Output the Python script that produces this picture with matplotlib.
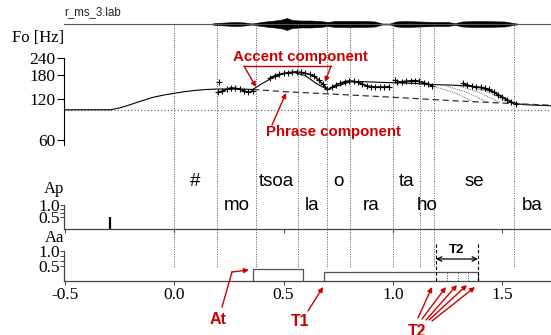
import matplotlib
matplotlib.use("Agg")
import matplotlib.pyplot as plt

# -------------------------------------
# Data
# -------------------------------------

# segment boundaries (s) and syllable labels
seg_bounds = [0.0, 0.196, 0.374, 0.565, 0.699, 0.804, 1.0, 1.123, 1.187, 1.553]
seg_labels = ["#", "mo", "tsoa", "la", "o", "ra", "ta", "ho", "se", "ba"]
seg_end = 1.72

# speech waveform envelope (time s, half amplitude)
wave_t = [0.0, 0.164, 0.19, 0.233, 0.28, 0.324, 0.356, 0.384, 0.416, 0.461, 0.493,
          0.516, 0.539, 0.575, 0.621, 0.667, 0.703, 0.735, 0.804, 0.872, 0.918,
          0.95, 0.986, 1.014, 1.055, 1.123, 1.192, 1.251, 1.283, 1.315, 1.374,
          1.443, 1.511, 1.548, 1.58]
wave_a = [0.0, 0.0, 0.1, 0.15, 0.2, 0.15, 0.05, 0.15, 0.25, 0.35, 0.45,
          0.6, 0.4, 0.35, 0.35, 0.3, 0.2, 0.3, 0.3, 0.3, 0.25,
          0.05, 0.05, 0.25, 0.3, 0.25, 0.2, 0.2, 0.08, 0.25, 0.3,
          0.28, 0.25, 0.1, 0.0]

# base frequency (Hz)
fb = 100

# model F0 contour (Hz)
model_t = [-0.5, -0.29, -0.25, -0.2, -0.15, -0.1, -0.05, 0.0, 0.05, 0.1, 0.15, 0.2,
           0.25, 0.3, 0.36, 0.40, 0.45, 0.50, 0.55, 0.60, 0.65, 0.70, 0.75, 0.80,
           0.85, 0.90, 1.0, 1.1, 1.19, 1.25, 1.3, 1.35, 1.40, 1.45, 1.5, 1.55,
           1.6, 1.72]
model_hz = [100, 100, 103, 109, 116, 123, 128, 132, 136, 139, 141, 142,
            142, 142, 141, 155, 172, 184, 188, 178, 156, 141, 150, 160,
            161, 160, 158, 156, 153, 152, 151, 149, 145, 136, 124, 112,
            109, 107]

# phrase component alone, after the first accent onset (Hz)
phrase_t = [0.36, 0.5, 0.7, 0.9, 1.1, 1.3, 1.5, 1.72]
phrase_hz = [141, 136, 131, 126, 121, 116, 112, 108]

# alternative contours for the T2 candidates
fan_t0 = [1.19, 1.245, 1.297, 1.342]
fan_hz0 = [148, 149, 150, 150]
fan_t1 = [1.374, 1.434, 1.489, 1.534]
fan_hz1 = [113, 113, 113, 112]

# measured F0 (Hz), one list per voiced stretch
f0_segments = [
    ([0.20, 0.22, 0.24, 0.26, 0.28, 0.30, 0.32, 0.34, 0.36],
     [134, 137, 141, 145, 144, 142, 138, 134, 138]),
    ([0.44, 0.46, 0.48, 0.50, 0.52, 0.54, 0.56, 0.58, 0.60, 0.62, 0.64, 0.66, 0.68, 0.70],
     [172, 178, 182, 185, 187, 189, 190, 188, 185, 182, 176, 166, 154, 142]),
    ([0.72, 0.74, 0.76, 0.78, 0.80, 0.82, 0.84, 0.86, 0.88, 0.90, 0.92, 0.94, 0.96, 0.98],
     [146, 152, 157, 161, 163, 162, 159, 154, 150, 148, 147, 147, 147, 148]),
    ([1.02, 1.04, 1.06, 1.08, 1.10, 1.12, 1.14, 1.16, 1.18],
     [160, 161, 162, 163, 164, 162, 158, 154, 150]),
    ([1.32, 1.34, 1.36, 1.38, 1.40, 1.42, 1.44, 1.46, 1.48, 1.50, 1.52, 1.54, 1.56],
     [156, 152, 149, 147, 146, 144, 141, 135, 129, 124, 118, 114, 111]),
]
f0_single_t = [0.205, 1.01]
f0_single_hz = [160, 166]

# phrase command
ap_t = -0.292
ap_amp = 0.48

# accent commands
aa_on = [0.361, 0.685]
aa_off = [0.589, 1.388]
aa_amp = [0.40, 0.30]
t2_cands = [1.196, 1.247, 1.297, 1.343]

x_ticks = [-0.5, 0.0, 0.5, 1.0, 1.5]
x_ticklabels = ["-0.5", "0.0", "0.5", "1.0", "1.5"]
fo_ticks = [60, 120, 180, 240]

# -------------------------------------
# Layout helpers (reference pixels)
# -------------------------------------
W, H = 551, 335
T0_PX, PX_PER_S = 174, 219
RED = "#cc0000"
SERIF = "Liberation Serif"
SANS = "Liberation Sans"


def px2t(x):
    return (x - T0_PX) / PX_PER_S


def px2hz(y):
    return 60 * 2 ** ((140 - y) / 41)


def add_axes_px(fig, x0, y0, x1, y1):
    return fig.add_axes([x0 / W, 1 - y1 / H, (x1 - x0) / W, (y1 - y0) / H])


def fp(x, y):
    return (x, H - y)


XLIM = (px2t(64), px2t(551))

fig = plt.figure(figsize=(W / 100, H / 100), dpi=100)

# waveform
ax_w = add_axes_px(fig, 64, 12, 551, 36)
ax_w.set_xlim(*XLIM)
ax_w.set_ylim(-1.2, 1.2)
ax_w.axhline(0, color="#555555", lw=0.8)
ax_w.fill_between(wave_t, [-a for a in wave_a], wave_a, color="black", lw=0.4)
ax_w.axis("off")

# F0 panel
ax_f = add_axes_px(fig, 64, 40, 551, 150)
ax_f.set_yscale("log")
ax_f.set_xlim(*XLIM)
ax_f.set_ylim(px2hz(150), px2hz(40))
ax_f.patch.set_visible(False)
for s in ["top", "right", "bottom"]:
    ax_f.spines[s].set_visible(False)
ax_f.spines["left"].set_bounds(55, 242)
ax_f.set_xticks([])
ax_f.yaxis.set_major_locator(plt.FixedLocator(fo_ticks))
ax_f.yaxis.set_minor_locator(plt.NullLocator())
ax_f.set_yticklabels([str(v) for v in fo_ticks], family=SERIF, fontsize=12.5)
ax_f.tick_params(axis="y", length=5, width=0.8, pad=1)
ax_f.axhline(fb, color="#555555", lw=0.8, ls=(0, (1, 2)))
ax_f.plot(model_t, model_hz, color="black", lw=0.8)
ax_f.plot(phrase_t, phrase_hz, color="#333333", lw=0.9, ls=(0, (5, 3)))
for a0, h0, a1, h1 in zip(fan_t0, fan_hz0, fan_t1, fan_hz1):
    ax_f.plot([a0, (a0 + a1) / 2, a1], [h0, (h0 + h1) / 2 + 3, h1],
              color="#444444", lw=0.6, ls=(0, (1, 1.2)))
for ts, hs in f0_segments:
    ax_f.plot(ts, hs, color="black", lw=1.1, marker="+", ms=4.5, mew=0.8)
ax_f.plot(f0_single_t, f0_single_hz, ls="none", color="black", marker="+", ms=5, mew=0.8)

# phrase command panel
ax_p = add_axes_px(fig, 64, 199, 551, 229)
ax_p.set_xlim(*XLIM)
ax_p.set_ylim(0, 30 / 24)
ax_p.patch.set_visible(False)
ax_p.spines["top"].set_visible(False)
ax_p.spines["right"].set_visible(False)
ax_p.spines["left"].set_bounds(0, 1.0)
for s in ["left", "bottom"]:
    ax_p.spines[s].set_color("#444444")
    ax_p.spines[s].set_linewidth(0.9)
ax_p.vlines(ap_t, 0, ap_amp, color="black", lw=1.6)
ax_p.set_xticks(x_ticks)
ax_p.set_xticklabels([])
ax_p.set_yticks([0.5, 2 / 3, 5 / 6, 1.0])
ax_p.set_yticklabels(["0.5", "", "", "1.0"], family=SERIF, fontsize=12.5)
ax_p.tick_params(length=3, width=0.7, pad=0, colors="#444444", labelcolor="black")

# accent command panel
ax_a = add_axes_px(fig, 64, 245, 551, 281)
ax_a.set_xlim(*XLIM)
ax_a.set_ylim(0, 36 / 30)
ax_a.patch.set_visible(False)
ax_a.spines["top"].set_visible(False)
ax_a.spines["right"].set_visible(False)
ax_a.spines["left"].set_bounds(0, 1.0)
for s in ["left", "bottom"]:
    ax_a.spines[s].set_color("#444444")
    ax_a.spines[s].set_linewidth(0.9)
for on, off, amp in zip(aa_on, aa_off, aa_amp):
    ax_a.plot([on, on, off, off], [0, amp, amp, 0], color="#555555", lw=0.9)
ax_a.vlines(t2_cands[1:], 0, aa_amp[1], color="#444444", lw=0.7, ls=(0, (1, 1.5)))
ax_a.set_xticks(x_ticks)
ax_a.set_xticklabels(x_ticklabels, family=SERIF, fontsize=12.5)
ax_a.set_yticks([0.5, 2 / 3, 5 / 6, 1.0])
ax_a.set_yticklabels(["0.5", "", "", "1.0"], family=SERIF, fontsize=12.5)
ax_a.tick_params(length=3, width=0.7, pad=1, colors="#444444", labelcolor="black")
ax_a.tick_params(axis="y", pad=0)

# overlay: boundaries, labels, annotations (x in seconds, y in pixels)
ov = fig.add_axes([0, 0, 1, 1])
ov.set_xlim(px2t(0), px2t(W))
ov.set_ylim(H, 0)
ov.axis("off")
ov.vlines(seg_bounds, 25, 268, color="#555555", lw=0.7, ls=(0, (1, 1.5)))
edges = seg_bounds + [seg_end]
for i, lab in enumerate(seg_labels):
    mid = (edges[i] + edges[i + 1]) / 2
    y = 182 if i % 2 == 0 else 206
    ov.text(mid, y, lab, ha="center", va="center", family=SANS, fontsize=13.5)

ov.text(px2t(64), 12, "r_ms_3.lab", ha="left", va="center", family=SANS,
        fontsize=8.3, color="#222222")
ov.text(px2t(38), 38, "Fo [Hz]", ha="center", va="center", family=SERIF, fontsize=12)
ov.text(px2t(54), 189, "Ap", ha="center", va="center", family=SERIF, fontsize=12)
ov.text(px2t(55), 238, "Aa", ha="center", va="center", family=SERIF, fontsize=12)

# T2 bracket
ov.vlines([t2_cands[0], aa_off[1]], 244, 281, color="black", lw=0.8, ls=(0, (3, 2)))
ov.annotate("", xy=(aa_off[1], 259), xytext=(t2_cands[0], 259),
            arrowprops=dict(arrowstyle="<->", lw=0.9, color="black",
                            shrinkA=0, shrinkB=0, mutation_scale=8))
ov.text((t2_cands[0] + aa_off[1]) / 2, 250, "T2", ha="center", va="center",
        family=SANS, fontsize=9.5, fontweight="bold")

# red annotations (figure pixels)
red_font = dict(family=SANS, fontweight="bold", color=RED)
arrow = dict(arrowstyle="-|>", color=RED, lw=1.0, mutation_scale=7, shrinkA=0, shrinkB=0)
ov.text(px2t(300), 57, "Accent component", ha="center", va="center", fontsize=10.8, **red_font)
ov.plot([px2t(244), px2t(331)], [66, 66], color=RED, lw=1.0)
ov.annotate("", xy=fp(256, 87), xytext=fp(244, 66), xycoords="figure pixels",
            textcoords="figure pixels", arrowprops=arrow)
ov.annotate("", xy=fp(325, 82), xytext=fp(331, 66), xycoords="figure pixels",
            textcoords="figure pixels", arrowprops=arrow)
ov.text(px2t(333), 132, "Phrase component", ha="center", va="center", fontsize=10.8, **red_font)
ov.annotate("", xy=fp(286, 93), xytext=fp(272, 125), xycoords="figure pixels",
            textcoords="figure pixels", arrowprops=arrow)

ov.text(px2t(218), 320, "At", ha="center", va="center", fontsize=11.5, **red_font)
ov.plot([px2t(222), px2t(232)], [307, 272], color=RED, lw=1.0)
ov.annotate("", xy=fp(249, 270), xytext=fp(232, 272), xycoords="figure pixels",
            textcoords="figure pixels", arrowprops=arrow)

ov.text(px2t(300), 322, "T1", ha="center", va="center", fontsize=11.5, **red_font)
ov.annotate("", xy=fp(323, 287), xytext=fp(308, 311), xycoords="figure pixels",
            textcoords="figure pixels", arrowprops=arrow)

ov.text(px2t(417), 331, "T2", ha="center", va="center", fontsize=11.5, **red_font)
for sx, sy, ex, ey in [(418, 318, 432, 287), (422, 319, 446, 287), (426, 320, 457, 285),
                       (429, 320, 467, 285), (432, 321, 475, 287)]:
    ov.annotate("", xy=fp(ex, ey), xytext=fp(sx, sy), xycoords="figure pixels",
                textcoords="figure pixels", arrowprops=arrow)

fig.savefig("out.png", dpi=100)
